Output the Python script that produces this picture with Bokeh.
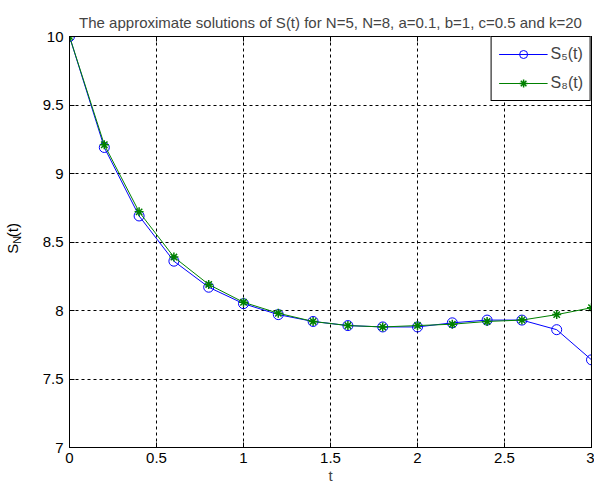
import math
from bokeh.plotting import figure
from bokeh.layouts import row
from bokeh.models import (Legend, LegendItem, LinearAxis, FixedTicker, Range1d)
from bokeh.core.properties import value
from bokeh.embed import file_html
from bokeh.resources import INLINE

t = [0.0, 0.2, 0.4, 0.6, 0.8, 1.0, 1.2, 1.4, 1.6, 1.8, 2.0, 2.2, 2.4, 2.6, 2.8, 3.0]
s5 = [10.0, 9.19, 8.69, 8.36, 8.17, 8.05, 7.97, 7.92, 7.89, 7.88, 7.88, 7.91, 7.93, 7.93, 7.86, 7.64]
s8 = [10.0, 9.21, 8.72, 8.39, 8.19, 8.06, 7.98, 7.92, 7.89, 7.88, 7.89, 7.90, 7.92, 7.93, 7.97, 8.02]

x_ticks = [0, 0.5, 1, 1.5, 2, 2.5, 3]
x_tick_labels = ["0", "0.5", "1", "1.5", "2", "2.5", "3"]
y_ticks = [7, 7.5, 8, 8.5, 9, 9.5, 10]
y_tick_labels = ["7", "7.5", "8", "8.5", "9", "9.5", "10"]

title_text = "The approximate solutions of S(t) for N=5, N=8, a=0.1, b=1, c=0.5 and k=20"
x_label = "t"
y_label_parts = ["S", "N", "(t)"]
legend_labels = ["S\u2085(t)", "S\u2088(t)"]
FONT = "Liberation Sans"

# ---- main plot ----
p = figure(width=570, height=486, output_backend="svg", toolbar_location=None,
           x_range=Range1d(0, 3), y_range=Range1d(7, 10),
           min_border_left=45, min_border_right=3, min_border_top=36, min_border_bottom=39)

p.title.text = title_text
p.title.text_font = FONT
p.title.text_font_size = "15px"
p.title.text_font_style = "normal"
p.title.align = "center"
p.title.standoff = 11

p.outline_line_color = "black"
p.outline_line_alpha = 1.0

for ax, ticks, labels in [(p.xaxis[0], x_ticks, x_tick_labels), (p.yaxis[0], y_ticks, y_tick_labels)]:
    ax.ticker = FixedTicker(ticks=ticks)
    ax.major_label_overrides = {tk: lb for tk, lb in zip(ticks, labels)}
    ax.major_tick_in = 5
    ax.major_tick_out = 0
    ax.minor_tick_in = 0
    ax.minor_tick_out = 0
    ax.major_label_text_font = FONT
    ax.major_label_text_font_size = "15px"
    ax.major_label_text_color = "black"
    ax.axis_line_color = "black"
    ax.major_tick_line_color = "black"
p.xaxis[0].major_label_standoff = 5
p.yaxis[0].major_label_standoff = 6
p.xaxis[0].axis_label = x_label
p.xaxis[0].axis_label_text_font = FONT
p.xaxis[0].axis_label_text_font_size = "15px"
p.xaxis[0].axis_label_text_font_style = "normal"
p.xaxis[0].axis_label_standoff = 1

for loc in ["above", "right"]:
    tks = x_ticks if loc == "above" else y_ticks
    a = LinearAxis(ticker=FixedTicker(ticks=tks),
                   major_label_overrides={tk: "" for tk in tks},
                   major_tick_in=5, major_tick_out=0, minor_tick_in=0, minor_tick_out=0,
                   major_label_standoff=0,
                   axis_line_color="black", major_tick_line_color="black")
    p.add_layout(a, loc)

for g in [p.xgrid[0], p.ygrid[0]]:
    g.grid_line_color = "black"
    g.grid_line_dash = "3 3"
    g.grid_line_width = 1
    g.grid_line_alpha = 1.0
p.xgrid[0].ticker = FixedTicker(ticks=x_ticks)
p.ygrid[0].ticker = FixedTicker(ticks=y_ticks)

l5 = p.line(t, s5, line_color="#0000ff", line_width=1)
m5 = p.scatter(t, s5, marker="circle", size=10, fill_alpha=0, line_color="#0000ff", line_width=1)
l8 = p.line(t, s8, line_color="#008000", line_width=1)
m8 = p.scatter(t, s8, marker="asterisk", size=9, line_color="#008000", line_width=1.5)

legend = Legend(items=[LegendItem(label=legend_labels[0], renderers=[l5, m5]),
                       LegendItem(label=legend_labels[1], renderers=[l8, m8])],
                location="top_right", margin=0, padding=7, spacing=9,
                glyph_width=49, glyph_height=20, label_height=20, label_standoff=3,
                label_text_font=FONT, label_text_font_size="16px",
                border_line_color="black", border_line_width=1, border_line_alpha=1,
                background_fill_color="white", background_fill_alpha=1)
p.add_layout(legend, "center")

# ---- y-axis label strip ----
lf = figure(width=24, height=486, output_backend="svg", toolbar_location=None,
            x_range=Range1d(0, 24), y_range=Range1d(486, 0),
            min_border=0, outline_line_color=None)
lf.axis.visible = False
lf.grid.visible = False
half = math.pi / 2
lf.text(x=[12], y=[251], text=[y_label_parts[0]], angle=half, text_align="center",
        text_baseline="middle", text_font=value(FONT), text_font_size="15px", text_color="black")
lf.text(x=[16], y=[240.5], text=[y_label_parts[1]], angle=half, text_align="center",
        text_baseline="middle", text_font=value(FONT), text_font_size="11px", text_color="black")
lf.text(x=[12], y=[229], text=[y_label_parts[2]], angle=half, text_align="center",
        text_baseline="middle", text_font=value(FONT), text_font_size="15px", text_color="black")

layout = row(lf, p, spacing=0)
open("out.html", "w").write(file_html(layout, INLINE))
